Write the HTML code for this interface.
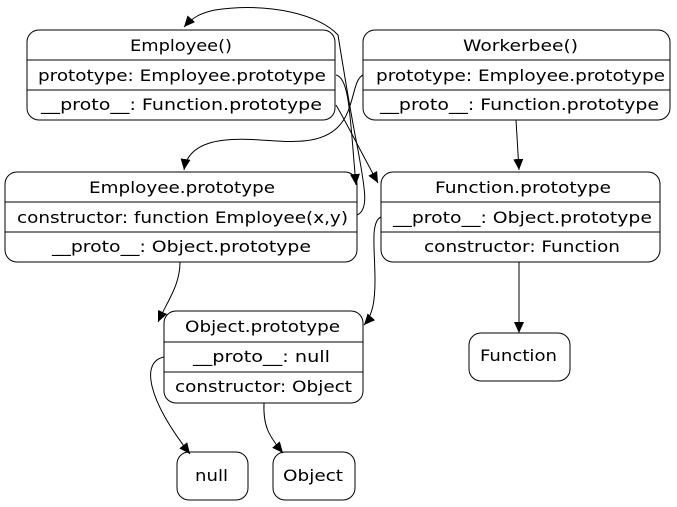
<!DOCTYPE html>
<html><head><meta charset="utf-8"><style>
html,body{margin:0;padding:0;background:#fff;width:677px;height:507px;overflow:hidden}
text{font-family:"DejaVu Sans","Liberation Sans",sans-serif;font-size:16px;fill:#000}
</style></head><body>
<svg width="677" height="507" viewBox="0 0 677 507" xmlns="http://www.w3.org/2000/svg">
<defs><marker id="a" markerWidth="11" markerHeight="10" refX="11" refY="5" orient="auto" markerUnits="userSpaceOnUse"><path d="M0,0 L11,5 L0,10 Z" fill="#000"/></marker></defs>
<g fill="none" stroke="#000" stroke-width="1">
<rect x="27" y="30" width="308" height="90" rx="12"/><line x1="27" y1="60" x2="335" y2="60"/><line x1="27" y1="90" x2="335" y2="90"/>
<rect x="363" y="30" width="307" height="90" rx="12"/><line x1="363" y1="60" x2="670" y2="60"/><line x1="363" y1="90" x2="670" y2="90"/>
<rect x="5" y="172" width="352" height="90" rx="12"/><line x1="5" y1="202" x2="357" y2="202"/><line x1="5" y1="232" x2="357" y2="232"/>
<rect x="381" y="172" width="279" height="90" rx="12"/><line x1="381" y1="202" x2="660" y2="202"/><line x1="381" y1="232" x2="660" y2="232"/>
<rect x="164" y="311" width="199" height="92" rx="12"/><line x1="164" y1="342" x2="363" y2="342"/><line x1="164" y1="372" x2="363" y2="372"/>
<rect x="469" y="333" width="101" height="48" rx="12"/>
<rect x="177" y="452" width="71" height="48" rx="12"/>
<rect x="273" y="452" width="82" height="48" rx="12"/>
<path d="M357,215 C370,210 364,185 358,150 C350,110 342,60 338,35 C320,15 270,2 215,10 C200,13 192,18 184,27" marker-end="url(#a)"/>
<path d="M363,75 C352,80 355,110 338,127 C320,145 290,142 260,140 C220,137 188,142 184,170" marker-end="url(#a)"/>
<path d="M336,75 C350,78 350,120 356,185" marker-end="url(#a)"/>
<path d="M336,105 C345,120 360,150 378,183" marker-end="url(#a)"/>
<path d="M516,120 L519,170" marker-end="url(#a)"/>
<path d="M381,217 C370,222 375,250 375,280 C375,300 373,315 364,325" marker-end="url(#a)"/>
<path d="M180,262 C180,285 168,300 158,322" marker-end="url(#a)"/>
<path d="M519,262 L519,333" marker-end="url(#a)"/>
<path d="M164,357 C140,362 148,400 190,454" marker-end="url(#a)"/>
<path d="M264,403 C263,425 268,435 283,453" marker-end="url(#a)"/>
</g>
<g>
<text x="130" y="51" textLength="102" lengthAdjust="spacingAndGlyphs">Employee()</text>
<text x="38" y="81" textLength="288" lengthAdjust="spacingAndGlyphs">prototype: Employee.prototype</text>
<text x="41" y="110" textLength="281" lengthAdjust="spacingAndGlyphs">__proto__: Function.prototype</text>
<text x="463" y="51" textLength="115" lengthAdjust="spacingAndGlyphs">Workerbee()</text>
<text x="376" y="81" textLength="289" lengthAdjust="spacingAndGlyphs">prototype: Employee.prototype</text>
<text x="380" y="110" textLength="279" lengthAdjust="spacingAndGlyphs">__proto__: Function.prototype</text>
<text x="89" y="193" textLength="186" lengthAdjust="spacingAndGlyphs">Employee.prototype</text>
<text x="17" y="223" textLength="331" lengthAdjust="spacingAndGlyphs">constructor: function Employee(x,y)</text>
<text x="52" y="252" textLength="259" lengthAdjust="spacingAndGlyphs">__proto__: Object.prototype</text>
<text x="435" y="193" textLength="176" lengthAdjust="spacingAndGlyphs">Function.prototype</text>
<text x="393" y="223" textLength="259" lengthAdjust="spacingAndGlyphs">__proto__: Object.prototype</text>
<text x="424" y="252" textLength="196" lengthAdjust="spacingAndGlyphs">constructor: Function</text>
<text x="185" y="332" textLength="155" lengthAdjust="spacingAndGlyphs">Object.prototype</text>
<text x="193" y="362" textLength="137" lengthAdjust="spacingAndGlyphs">__proto__: null</text>
<text x="175" y="392" textLength="177" lengthAdjust="spacingAndGlyphs">constructor: Object</text>
<text x="480" y="361" textLength="77" lengthAdjust="spacingAndGlyphs">Function</text>
<text x="195" y="481" textLength="33" lengthAdjust="spacingAndGlyphs">null</text>
<text x="283" y="481" textLength="60" lengthAdjust="spacingAndGlyphs">Object</text>
</g>
</svg>
</body></html>
